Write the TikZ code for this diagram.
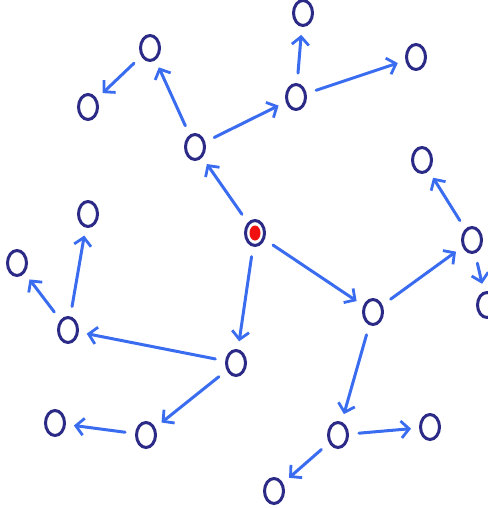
\documentclass[tikz,border=0pt]{standalone}
\usetikzlibrary{shapes.geometric,arrows.meta}
\definecolor{navy}{HTML}{2B2A86}
\definecolor{pen}{HTML}{3A6CF0}
\definecolor{dotred}{HTML}{F01010}
\tikzset{
  nd/.style={ellipse, draw=navy, line width=3pt, minimum width=19pt, minimum height=25pt, inner sep=0pt},
  root/.style={nd, path picture={\fill[dotred] (path picture bounding box.center) ellipse (5.5pt and 7.5pt);}},
  arr/.style={draw=pen, line width=3pt, line cap=round, shorten <=10pt, shorten >=8pt,
    -{Straight Barb[length=8pt,width=17pt,line width=2.8pt]}}
}
\begin{document}
\begin{tikzpicture}[x=1pt,y=-1pt]
\useasboundingbox (0,0) rectangle (487,508);
\node[root] (c) at (255,233) {};
\node[nd] (a) at (195,147) {};
\node[nd] (b) at (150,48) {};
\node[nd] (d) at (88,107) {};
\node[nd] (e) at (296,97) {};
\node[nd] (f) at (303,13) {};
\node[nd] (g) at (416,57) {};
\node[nd] (h) at (373,312) {};
\node[nd] (i) at (472,240) {};
\node[nd] (j) at (422,160) {};
\node[nd] (k) at (487,305) {};
\node[nd] (l) at (338,435) {};
\node[nd] (m) at (430,427) {};
\node[nd] (n) at (274,491) {};
\node[nd] (o) at (236,363) {};
\node[nd] (p) at (68,330) {};
\node[nd] (q) at (17,263) {};
\node[nd] (r) at (88,214) {};
\node[nd] (s) at (146,435) {};
\node[nd] (t) at (55,423) {};
\draw[arr] (c) -- (a);
\draw[arr] (a) -- (b);
\draw[arr] (b) -- (d);
\draw[arr] (a) -- (e);
\draw[arr] (e) -- (f);
\draw[arr] (e) -- (g);
\draw[arr] (c) -- (h);
\draw[arr] (h) -- (i);
\draw[arr] (i) -- (j);
\draw[arr] (i) -- (k);
\draw[arr] (h) -- (l);
\draw[arr] (l) -- (m);
\draw[arr] (l) -- (n);
\draw[arr] (c) -- (o);
\draw[arr] (o) -- (p);
\draw[arr] (p) -- (q);
\draw[arr] (p) -- (r);
\draw[arr] (o) -- (s);
\draw[arr] (s) -- (t);
\end{tikzpicture}
\end{document}
